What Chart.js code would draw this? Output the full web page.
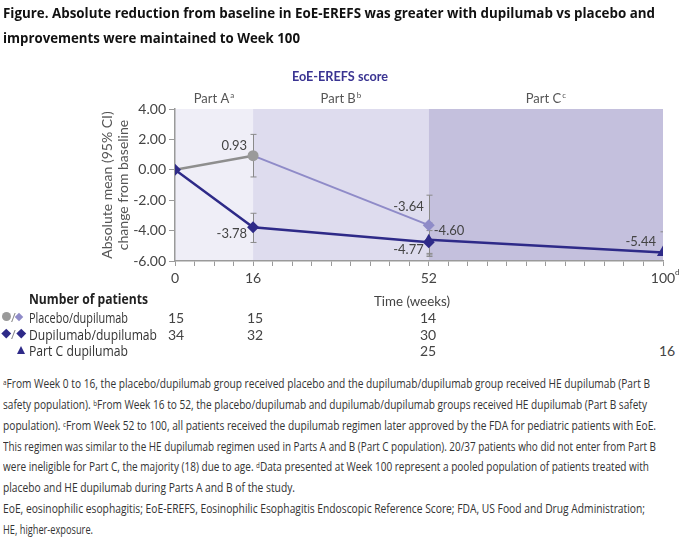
<!DOCTYPE html>
<html><head><meta charset="utf-8"><title>EoE-EREFS score</title>
<script src="https://cdn.jsdelivr.net/npm/chart.js@4.4.1/dist/chart.umd.min.js"></script>
<style>
html,body{margin:0;padding:0;background:#fff}
body{width:680px;height:540px;position:relative;overflow:hidden;font-family:"Liberation Sans Narrow","Arial Narrow","Open Sans",sans-serif;color:#222}
canvas{position:absolute;left:0;top:0}
.t{position:absolute;white-space:nowrap;line-height:1;transform-origin:0 0}
.t sup{font-size:0.62em;vertical-align:0.45em;line-height:0}
.ttl{font-weight:bold;font-size:15px;color:#111}
.fn{font-size:12.5px;color:#333}
.tb{font-size:14px;color:#333}
.num{position:absolute;width:30px;text-align:center;font-family:Lato,"Open Sans",sans-serif;font-size:14px;color:#444;line-height:1}
.mk{position:absolute}
</style></head><body>
<canvas id="chart" width="680" height="312"></canvas>

<div class="t ttl fit" data-w="652" style="left:3px;top:5px">Figure. Absolute reduction from baseline in EoE-EREFS was greater with dupilumab vs placebo and</div>
<div class="t ttl fit" data-w="297" style="left:3px;top:30px">improvements were maintained to Week 100</div>

<div class="t fit" data-w="76" style="left:374px;top:294px;font-family:Lato,'Open Sans',sans-serif;font-size:14px;color:#444">Time (weeks)</div>
<div class="t tb fit" data-w="119" style="left:29px;top:292px;font-weight:bold;color:#222">Number of patients</div>
<div class="t tb fit" data-w="99" style="left:29px;top:311px">Placebo/dupilumab</div>
<div class="t tb fit" data-w="128" style="left:29px;top:327.5px">Dupilumab/dupilumab</div>
<div class="t tb fit" data-w="99" style="left:29px;top:344px">Part C dupilumab</div>

<div id="nums"></div>

<div class="mk" style="left:2px;top:312px;width:9px;height:9px;border-radius:50%;background:#9a9a9a"></div>
<div class="t" style="left:11px;top:311px;font-size:13px;color:#888">/</div>
<div class="mk" style="left:16px;top:313.5px;width:6px;height:6px;background:#8f8bc8;transform:rotate(45deg)"></div>
<div class="mk" style="left:3px;top:330px;width:6.5px;height:6.5px;background:#2e2a88;transform:rotate(45deg)"></div>
<div class="t" style="left:11px;top:327.5px;font-size:13px;color:#888">/</div>
<div class="mk" style="left:17.5px;top:330px;width:6.5px;height:6.5px;background:#2e2a88;transform:rotate(45deg)"></div>
<div class="mk" style="left:17px;top:345.5px;width:0;height:0;border-left:4.5px solid transparent;border-right:4.5px solid transparent;border-bottom:8px solid #2e2a88"></div>

<div class="t fn fit" data-w="647" style="left:3px;top:378px"><sup>a</sup>From Week 0 to 16, the placebo/dupilumab group received placebo and the dupilumab/dupilumab group received HE dupilumab (Part B</div>
<div class="t fn fit" data-w="644" style="left:3px;top:399px">safety population). <sup>b</sup>From Week 16 to 52, the placebo/dupilumab and dupilumab/dupilumab groups received HE dupilumab (Part B safety</div>
<div class="t fn fit" data-w="653" style="left:3px;top:420px">population). <sup>c</sup>From Week 52 to 100, all patients received the dupilumab regimen later approved by the FDA for pediatric patients with EoE.</div>
<div class="t fn fit" data-w="653" style="left:3px;top:441px">This regimen was similar to the HE dupilumab regimen used in Parts A and B (Part C population). 20/37 patients who did not enter from Part B</div>
<div class="t fn fit" data-w="646" style="left:3px;top:461px">were ineligible for Part C, the majority (18) due to age. <sup>d</sup>Data presented at Week 100 represent a pooled population of patients treated with</div>
<div class="t fn fit" data-w="292" style="left:3px;top:482px">placebo and HE dupilumab during Parts A and B of the study.</div>
<div class="t fn fit" data-w="642" style="left:3px;top:503px">EoE, eosinophilic esophagitis; EoE-EREFS, Eosinophilic Esophagitis Endoscopic Reference Score; FDA, US Food and Drug Administration;</div>
<div class="t fn fit" data-w="90" style="left:3px;top:524px">HE, higher-exposure.</div>

<script>
// ---------- data ----------
const tickWeeks = [0, 16, 52, 100];
const tickLabels = ['0', '16', '52', '100'];
const parts = ['Part A', 'Part B', 'Part C'];
const partSup = ['a', 'b', 'c'];
const partBounds = [0, 16, 52, 100];

const placeboWeeks = [0, 16, 52];
const placeboMean = [0, 0.93, -3.64];
const placeboLo = [null, -0.47, -5.6];
const placeboHi = [null, 2.33, -1.67];

const dupiWeeks = [0, 16, 52];
const dupiMean = [0, -3.78, -4.77];
const dupiLo = [null, -4.78, -5.5];
const dupiHi = [null, -2.86, -4.0];

const partCWeeks = [52, 100];
const partCMean = [-4.60, -5.44];
const partCLo = [-5.7, -6.8];
const partCHi = [-3.5, -4.08];

// patients table
const nPlacebo = ['15', '15', '14', ''];
const nDupi = ['34', '32', '30', ''];
const nPartC = ['', '', '25', '16'];
const numCols = [176, 255, 428, 667];
const numRows = [318, 334.5, 351];

const NAVY = '#2e2a88', LIGHT = '#8f8bc8', GRAY = '#8e8e8e';

// numbers table
(function(){
  const host = document.getElementById('nums');
  [nPlacebo, nDupi, nPartC].forEach((row, r) => {
    row.forEach((v, c) => {
      if (!v) return;
      const d = document.createElement('div');
      d.className = 'num';
      d.textContent = v;
      d.style.left = (numCols[c] - 15) + 'px';
      d.style.top = (numRows[r] - 7) + 'px';
      host.appendChild(d);
    });
  });
})();

function pts(w, m) { return w.map((x, i) => ({ x: x, y: m[i] })); }

const bgPlugin = {
  id: 'bg',
  beforeDraw(chart) {
    const { ctx, chartArea: a, scales: { x } } = chart;
    const cols = ['#efeef7', '#dedcee', '#c4c0dd'];
    ctx.save();
    for (let i = 0; i < 3; i++) {
      const x0 = x.getPixelForValue(partBounds[i]);
      const x1 = x.getPixelForValue(partBounds[i + 1]);
      ctx.fillStyle = cols[i];
      ctx.fillRect(x0, a.top, x1 - x0, a.bottom - a.top);
    }
    // headers
    ctx.fillStyle = '#555';
    ctx.textBaseline = 'middle';
    for (let i = 0; i < 3; i++) {
      const cx = (x.getPixelForValue(partBounds[i]) + x.getPixelForValue(partBounds[i + 1])) / 2;
      ctx.font = '13px Lato, "Open Sans", sans-serif';
      const w = ctx.measureText(parts[i]).width;
      ctx.font = '8px Lato, "Open Sans", sans-serif';
      const ws = ctx.measureText(partSup[i]).width;
      const sx = cx - (w + ws + 1) / 2;
      ctx.font = '13px Lato, "Open Sans", sans-serif';
      ctx.textAlign = 'left';
      ctx.fillText(parts[i], sx, 99);
      ctx.font = '8px Lato, "Open Sans", sans-serif';
      ctx.fillText(partSup[i], sx + w + 1, 95);
    }
    ctx.font = 'bold 13px Lato, "Open Sans", sans-serif';
    ctx.fillStyle = '#3a3492';
    ctx.textAlign = 'center';
    ctx.fillText('EoE-EREFS score', (a.left + a.right) / 2 - 79, 77, 96);
    // superscript d on 100
    ctx.font = '8px Lato, "Open Sans", sans-serif';
    ctx.fillStyle = '#444';
    ctx.textAlign = 'left';
    ctx.fillText('d', x.getPixelForValue(100) + 12, 272);
    ctx.restore();
  }
};

const errPlugin = {
  id: 'err',
  beforeDatasetsDraw(chart) {
    const { ctx, chartArea: a, scales: { x, y } } = chart;
    ctx.save();
    ctx.beginPath();
    ctx.rect(a.left, a.top, a.right - a.left, a.bottom - a.top);
    ctx.clip();
    ctx.strokeStyle = '#8a8a8a';
    ctx.lineWidth = 1;
    const sets = [[placeboWeeks, placeboLo, placeboHi], [dupiWeeks, dupiLo, dupiHi], [partCWeeks, partCLo, partCHi]];
    sets.forEach(([w, lo, hi]) => {
      w.forEach((wk, i) => {
        if (lo[i] == null) return;
        const px = Math.round(x.getPixelForValue(wk)) + 0.5;
        const y0 = y.getPixelForValue(lo[i]), y1 = y.getPixelForValue(hi[i]);
        ctx.beginPath();
        ctx.moveTo(px, y0); ctx.lineTo(px, y1);
        ctx.moveTo(px - 3, y0); ctx.lineTo(px + 3, y0);
        ctx.moveTo(px - 3, y1); ctx.lineTo(px + 3, y1);
        ctx.stroke();
      });
    });
    ctx.restore();
  }
};

const labelPlugin = {
  id: 'lbl',
  afterDatasetsDraw(chart) {
    const { ctx, scales: { x, y } } = chart;
    const items = [
      [placeboWeeks[1], placeboMean[1], -6, -10, 'right'],
      [dupiWeeks[1], dupiMean[1], -6, 7, 'right'],
      [placeboWeeks[2], placeboMean[2], -5, -18, 'right'],
      [partCWeeks[0], partCMean[0], 5, -9, 'left'],
      [dupiWeeks[2], dupiMean[2], -5, 8, 'right'],
      [partCWeeks[1], partCMean[1], -7, -11, 'right']
    ];
    ctx.save();
    ctx.font = '13px Lato, "Open Sans", sans-serif';
    ctx.fillStyle = '#444';
    ctx.textBaseline = 'middle';
    items.forEach(([wk, v, dx, dy, al]) => {
      ctx.textAlign = al;
      ctx.fillText(v.toFixed(2), x.getPixelForValue(wk) + dx, y.getPixelForValue(v) + dy);
    });
    ctx.restore();
  }
};

new Chart(document.getElementById('chart'), {
  type: 'line',
  data: {
    datasets: [
      { label: 'Dupilumab/dupilumab', data: pts(dupiWeeks, dupiMean), borderColor: NAVY, backgroundColor: NAVY,
        borderWidth: 2.5, pointStyle: 'rectRot', pointRadius: 6, pointBorderWidth: 0 },
      { label: 'Part C dupilumab', data: pts(partCWeeks, partCMean), borderColor: NAVY, backgroundColor: NAVY,
        borderWidth: 2.5, pointStyle: 'triangle', pointRadius: [6, 7], pointBorderWidth: 0 },
      { label: 'Placebo/dupilumab (Part A)', data: pts(placeboWeeks.slice(0, 2), placeboMean.slice(0, 2)), borderColor: GRAY, backgroundColor: '#9a9a9a',
        borderWidth: 2.5, pointStyle: 'circle', pointRadius: [0, 5.5], pointBorderWidth: 0 },
      { label: 'Placebo/dupilumab (Part B)', data: pts(placeboWeeks.slice(1), placeboMean.slice(1)), borderColor: LIGHT, backgroundColor: LIGHT,
        borderWidth: 2, pointStyle: 'rectRot', pointRadius: [0, 6], pointBorderWidth: 0 }
    ]
  },
  options: {
    responsive: false,
    animation: false,
    layout: { padding: { left: 95, right: 17, top: 109, bottom: 0 } },
    plugins: { legend: { display: false }, tooltip: { enabled: false } },
    scales: {
      x: {
        type: 'linear', min: 0, max: 100,
        afterFit(s) { s.height = 51; },
        grid: { drawOnChartArea: false, drawTicks: true, tickLength: 5, color: '#9a9a9a' },
        border: { color: '#9a9a9a', width: 1.5 },
        ticks: {
          stepSize: 4, autoSkip: false, maxRotation: 0, padding: 4,
          color: '#444', font: { family: 'Lato, "Open Sans", sans-serif', size: 14 },
          callback(v) { const i = tickWeeks.indexOf(v); return i >= 0 ? tickLabels[i] : ''; }
        }
      },
      y: {
        min: -6, max: 4,
        afterFit(s) { s.width = 80; },
        grid: { drawOnChartArea: false, drawTicks: true, tickLength: 6, color: '#9a9a9a' },
        border: { color: '#9a9a9a', width: 1.5 },
        ticks: {
          stepSize: 2, padding: 3, color: '#444',
          font: { family: 'Lato, "Open Sans", sans-serif', size: 14 },
          callback(v) { return v.toFixed(2); }
        },
        title: {
          display: true, text: ['Absolute mean (95% CI)', 'change from baseline'],
          color: '#555', font: { family: 'Lato, "Open Sans", sans-serif', size: 14, lineHeight: 1.15 },
          padding: { top: 4, bottom: 0 }
        }
      }
    }
  },
  plugins: [bgPlugin, errPlugin, labelPlugin]
});

function fitAll() {
  document.querySelectorAll('.fit').forEach(el => {
    el.style.transform = 'none';
    const w = el.getBoundingClientRect().width;
    const target = parseFloat(el.dataset.w);
    if (w > 0) el.style.transform = 'scaleX(' + (target / w) + ')';
  });
}
fitAll();
if (document.fonts && document.fonts.ready) document.fonts.ready.then(fitAll);
</script>
</body></html>
